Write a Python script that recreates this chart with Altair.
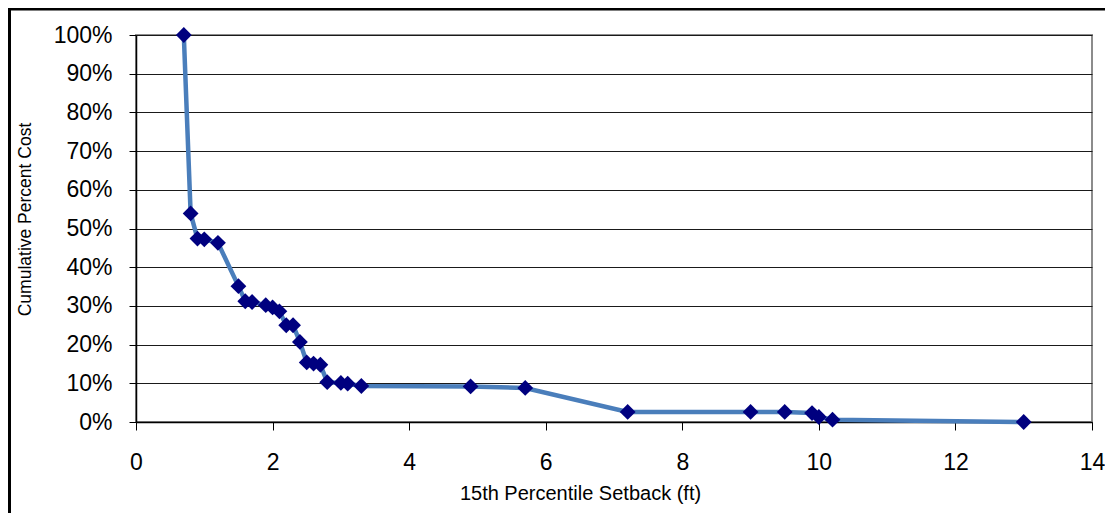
import altair as alt
import pandas as pd

setback_ft = [0.7, 0.8, 0.9, 1.0, 1.2, 1.5, 1.6, 1.7, 1.9, 2.0, 2.1, 2.2, 2.3, 2.4, 2.5,
              2.6, 2.7, 2.8, 3.0, 3.1, 3.3, 4.9, 5.7, 7.2, 9.0, 9.5, 9.9, 10.0, 10.2, 13.0]
cum_pct = [100, 53.9, 47.4, 47.2, 46.3, 35.1, 31.2, 31.0, 30.2, 29.6, 28.6, 25.0, 25.0, 20.7, 15.4,
           15.1, 14.8, 10.3, 10.1, 9.9, 9.3, 9.2, 8.8, 2.6, 2.6, 2.6, 2.3, 1.3, 0.6, 0.0]
x_ticks = [0, 2, 4, 6, 8, 10, 12, 14]
y_ticks = [0, 10, 20, 30, 40, 50, 60, 70, 80, 90, 100]

df = pd.DataFrame({"x": setback_ft, "y": cum_pct, "i": list(range(len(setback_ft)))})

W, H = 956, 387
PL, PT, PR, PB = 128, 27, 13, 91
FONT = "Liberation Sans"

xs = alt.Scale(domain=[0, 14], nice=False, zero=False)
ys = alt.Scale(domain=[0, 100], nice=False)

xax = alt.Axis(values=x_ticks, grid=False, title="15th Percentile Setback (ft)",
               labelExpr="format(datum.value, 'd')", labelFlush=False, labelOverlap=False,
               labelFontSize=23, labelFont=FONT, labelColor="#000", labelPadding=21,
               tickSize=8, tickColor="#000", domainColor="#000", domainWidth=1.5,
               titleFont=FONT, titleFontSize=20, titleFontWeight="normal", titleColor="#000",
               titleX=444, titleY=71, titleAnchor="start", titleAlign="center", titleBaseline="middle")
yax = alt.Axis(values=y_ticks, grid=True, gridColor="#1a1a1a", gridWidth=1,
               labelExpr="datum.value + '%'", labelOverlap=False, labelFlush=False,
               title="Cumulative Percent Cost",
               labelFontSize=23, labelFont=FONT, labelColor="#000", labelPadding=17,
               tickSize=7, tickColor="#000", domainColor="#000", domainWidth=1.5,
               titleFont=FONT, titleFontSize=17.5, titleFontWeight="normal", titleColor="#000",
               titleX=-111, titleY=184, titleAngle=270, titleAlign="center", titleBaseline="middle")

base = alt.Chart(df).encode(
    x=alt.X("x:Q", scale=xs, axis=xax),
    y=alt.Y("y:Q", scale=ys, axis=yax),
)
line = base.mark_line(color="#4A7EBB", strokeWidth=4.5).encode(order="i:Q")
pts = base.mark_point(shape="diamond", filled=True, color="#00007F", size=250, opacity=1)

top_border = alt.Chart(pd.DataFrame({"a": [0]})).mark_rule(color="#000", strokeWidth=3).encode(
    x=alt.value(-PL), x2=alt.value(W + PR), y=alt.value(-PT + 1)
)
left_border = alt.Chart(pd.DataFrame({"a": [0]})).mark_rule(color="#000", strokeWidth=3).encode(
    x=alt.value(-PL + 1.5), y=alt.value(-PT), y2=alt.value(H + PB)
)

chart = alt.layer(line, pts, top_border, left_border).properties(
    width=W, height=H,
    autosize=alt.AutoSizeParams(type="none"),
    padding={"left": PL, "top": PT, "right": PR, "bottom": PB},
    background="white",
).configure_view(stroke="#8c8c8c", strokeWidth=2)

chart.save("out.html", embed_options={"renderer": "svg", "actions": False})
